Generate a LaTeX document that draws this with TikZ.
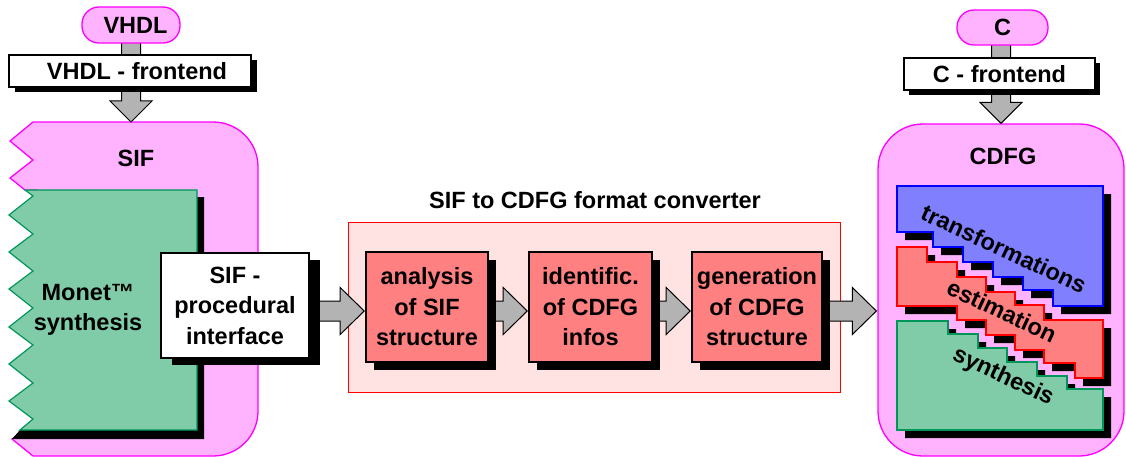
\documentclass[tikz,border=0pt]{standalone}
\usepackage{fontspec}
\setmainfont{Liberation Sans}
\usetikzlibrary{calc,shadows}
\pgfdeclarelayer{back}
\pgfdeclarelayer{mid}
\pgfsetlayers{back,mid,main}
\definecolor{pinkf}{RGB}{255,179,255}
\definecolor{mag}{RGB}{255,0,255}
\definecolor{greenf}{RGB}{128,204,168}
\definecolor{greend}{RGB}{0,150,90}
\definecolor{salmon}{RGB}{255,128,128}
\definecolor{convf}{RGB}{255,226,226}
\definecolor{bluef}{RGB}{128,128,255}
\definecolor{arrowg}{RGB}{179,179,179}
\newcommand\hblockarrow[2]{\draw[blockarrow] let \p1=(#1), \p2=(#2) in
  (\x1,\y2+10pt) -- (\x2-24pt,\y2+10pt) -- (\x2-24pt,\y2+23.5pt) -- (\x2,\y2)
  -- (\x2-24pt,\y2-23.5pt) -- (\x2-24pt,\y2-10pt) -- (\x1,\y2-10pt) -- cycle;}
\newcommand\vblockarrow[2]{\draw[blockarrow] let \p1=(#1), \p2=(#2) in
  (\x2-9.5pt,\y1) -- (\x2-9.5pt,\y2+21pt) -- (\x2-21pt,\y2+21pt) -- (\x2,\y2)
  -- (\x2+21pt,\y2+21pt) -- (\x2+9.5pt,\y2+21pt) -- (\x2+9.5pt,\y1) -- cycle;}
\begin{document}
\begin{tikzpicture}[x=1pt,y=-1pt,
  every node/.style={font=\fontsize{23.5}{30.5}\selectfont\bfseries, inner sep=0pt},
  pill/.style={draw=mag, line width=1.3pt, fill=pinkf, rounded corners=17pt},
  shad/.style 2 args={drop shadow={shadow xshift=#1pt, shadow yshift=-#2pt, fill=black, opacity=1}},
  whitebox/.style={draw=black, line width=1.2pt, fill=white, align=center},
  redbox/.style={draw=black, line width=1.6pt, fill=salmon, align=center, minimum width=122pt, minimum height=110pt, shad={8}{8}},
  blockarrow/.style={draw=black, line width=1pt, fill=arrowg, line join=miter},
  sifshape/.style={draw=mag, line width=1.3pt, fill=pinkf},
  greenshape/.style={draw=greend, line width=1.2pt, fill=greenf},
  blueshape/.style={draw=blue, line width=1.2pt, fill=bluef},
  redshape/.style={draw=red, line width=1.2pt, fill=salmon}
]
\useasboundingbox (0,0) rectangle (1126,457);

\begin{pgfonlayer}{back}
  % converter frame
  \node[draw=red, fill=convf, line width=1pt, minimum width=492pt, minimum height=170pt] (conv) at (594,307) {};
  % SIF region
  \draw[sifshape] (33,122) -- (213,122) .. controls (238,122) and (258,142) .. (258,167)
    -- (258,411) .. controls (258,436) and (238,456) .. (213,456) -- (33,456) -- (12,439)
    -- (37,425) -- (37,190) -- (25,190) -- (10,178) -- (33,160) -- (10,141) -- cycle;
  \coordinate (siftop) at (131,122);
  % CDFG region
  \node[pill, rounded corners=45pt, minimum width=246pt, minimum height=332pt] (cdfg) at (1001,290) {};
\end{pgfonlayer}

\node[anchor=base] (convt) at (595,208) {SIF to CDFG format converter};
\node[anchor=base] (siflbl) at (136,167) {SIF};
\node[anchor=base] (cdfglbl) at (1003,165) {CDFG};

% VHDL side
\node[pill, minimum width=98pt, minimum height=36pt] (vhdl) at (131,25) {\hspace*{9pt}VHDL};
\node[whitebox, shad={6}{5}, minimum width=242pt, minimum height=32pt] (vfe) at (130,71) {\hspace*{14pt}VHDL - frontend};

% Monet synthesis (green)
\fill[black] (197,197) -- (204,197) -- (204,439) -- (12,439) -- (20,430) -- (197,430) -- cycle;
\draw[greenshape] (25,190) -- (197,190) -- (197,430) -- (20,430) -- (33,419) -- (9,401) -- (33,383)
  -- (9,364) -- (33,345) -- (9,327) -- (33,308) -- (9,289) -- (33,271) -- (9,252) -- (33,234)
  -- (9,215) -- (33,196) -- cycle;
\node[align=center] (monet) at (88,310) {Monet™\\synthesis};

\node[whitebox, shad={11}{7}, minimum width=148pt, minimum height=105pt] (proc) at (235,305.5) {SIF -\\procedural\\interface};

% converter steps
\node[redbox] (an) at (427,307) {analysis\\of SIF\\structure};
\node[redbox, minimum width=123pt] (idf) at (590.5,307) {identific.\\of CDFG\\infos};
\node[redbox, minimum width=130pt] (gen) at (757,307) {generation\\of CDFG\\structure};

% C side
\node[pill, minimum width=91pt, minimum height=35pt] (cpill) at (1002.5,27.5) {C};
\node[whitebox, shad={5}{5}, minimum width=191pt, minimum height=32pt] (cfe) at (999.5,74) {C - frontend};

% CDFG staircases
\fill[black, shift={(8,8)}] (897,186) -- (1103,186) -- (1103,306) -- (1053,306) -- (1053,290) -- (1023,290)
  -- (1023,277) -- (993,277) -- (993,262) -- (963,262) -- (963,247) -- (933,247) -- (933,232) -- (897,232) -- cycle;
\draw[blueshape] (897,186) -- (1103,186) -- (1103,306) -- (1053,306) -- (1053,290) -- (1023,290)
  -- (1023,277) -- (993,277) -- (993,262) -- (963,262) -- (963,247) -- (933,247) -- (933,232) -- (897,232) -- cycle;
\fill[black, shift={(8,8)}] (897,247) -- (927,247) -- (927,262) -- (957,262) -- (957,277) -- (986,277) -- (986,292)
  -- (1015,292) -- (1015,305) -- (1044,305) -- (1044,320) -- (1103,320) -- (1103,378) -- (1075,378) -- (1075,363)
  -- (1044,363) -- (1044,350) -- (1015,350) -- (1015,335) -- (986,335) -- (986,320) -- (957,320) -- (957,306)
  -- (897,306) -- cycle;
\draw[redshape] (897,247) -- (927,247) -- (927,262) -- (957,262) -- (957,277) -- (986,277) -- (986,292)
  -- (1015,292) -- (1015,305) -- (1044,305) -- (1044,320) -- (1103,320) -- (1103,378) -- (1075,378) -- (1075,363)
  -- (1044,363) -- (1044,350) -- (1015,350) -- (1015,335) -- (986,335) -- (986,320) -- (957,320) -- (957,306)
  -- (897,306) -- cycle;
\fill[black, shift={(8,8)}] (897,321) -- (948,321) -- (948,334) -- (978,334) -- (978,348) -- (1007,348) -- (1007,362)
  -- (1037,362) -- (1037,376) -- (1067,376) -- (1067,389) -- (1103,389) -- (1103,430) -- (897,430) -- cycle;
\draw[greenshape] (897,321) -- (948,321) -- (948,334) -- (978,334) -- (978,348) -- (1007,348) -- (1007,362)
  -- (1037,362) -- (1037,376) -- (1067,376) -- (1067,389) -- (1103,389) -- (1103,430) -- (897,430) -- cycle;
\node[rotate=-25] (trans) at (1004,249) {transformations};
\node[rotate=-25] (estim) at (1002,311) {estimation};
\node[rotate=-25] (synth) at (1003,377) {synthesis};

% arrows
\begin{pgfonlayer}{mid}
  \vblockarrow{vhdl.center}{siftop}
  \vblockarrow{cpill.center}{cdfg.north}
  \hblockarrow{proc.center}{$(an.west)+(-1,4)$}
  \hblockarrow{an.center}{$(idf.west)+(-1,4)$}
  \hblockarrow{idf.center}{$(gen.west)+(-1,4)$}
  \hblockarrow{gen.center}{$(cdfg.west |- gen.center)+(-1,4)$}
\end{pgfonlayer}
\end{tikzpicture}
\end{document}
